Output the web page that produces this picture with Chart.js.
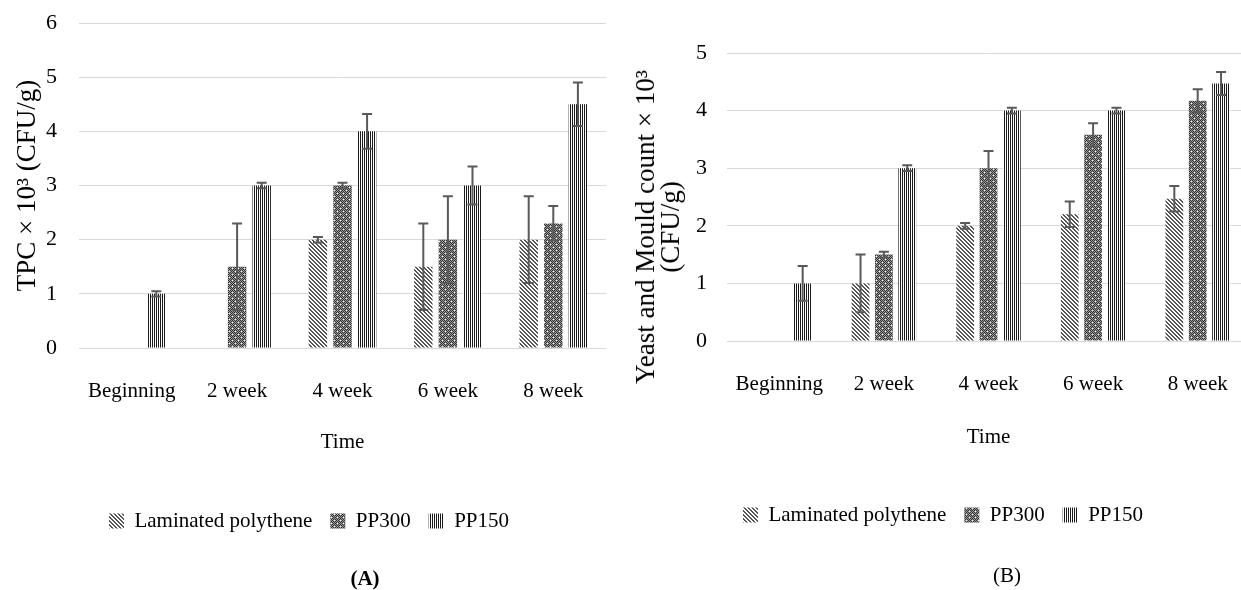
<!DOCTYPE html>
<html>
<head>
<meta charset="utf-8">
<script src="https://cdn.jsdelivr.net/npm/chart.js@4"></script>
<style>
  html, body { margin: 0; padding: 0; background: #fff; overflow: hidden; }
  body { width: 1241px; height: 590px; position: relative; font-family: 'Liberation Serif', 'Times New Roman', serif; }
  canvas { position: absolute; top: 0; }
  .cap { position: absolute; font-size: 21px; line-height: 1; transform: translate(-50%, -50%); white-space: nowrap; }
  #yTitleB { position: absolute; left: 658px; top: 227px; font-size: 27px; line-height: 25px; text-align: center;
             white-space: nowrap; transform: translate(-50%, -50%) rotate(-90deg); }
</style>
</head>
<body>
<canvas id="chartA" width="620" height="590" style="left:0"></canvas>
<canvas id="chartB" width="640" height="590" style="left:620px"></canvas>
<div id="yTitleB">Yeast and Mould count × 10³<br>(CFU/g)</div>
<div class="cap" style="left:365px; top:578px; font-weight:bold">(A)</div>
<div class="cap" style="left:1007px; top:575px">(B)</div>
<script>
// data
const categories = ['Beginning', '2 week', '4 week', '6 week', '8 week'];
const seriesNames = ['Laminated polythene', 'PP300', 'PP150'];

// (A) total plate count
const tpcTicks = [0, 1, 2, 3, 4, 5, 6];
const tpcLaminated = [null, null, 2.0, 1.5, 2.0];
const tpcPP300 = [null, 1.5, 3.0, 2.0, 2.3];
const tpcPP150 = [1.0, 3.0, 4.0, 3.0, 4.5];
const tpcLaminatedErr = [0, 0, 0.05, 0.8, 0.8];
const tpcPP300Err = [0, 0.8, 0.05, 0.8, 0.32];
const tpcPP150Err = [0.05, 0.05, 0.32, 0.35, 0.4];

// (B) yeast and mould
const ymTicks = [0, 1, 2, 3, 4, 5];
const ymLaminated = [null, 1.0, 2.0, 2.2, 2.47];
const ymPP300 = [null, 1.5, 3.0, 3.58, 4.17];
const ymPP150 = [1.0, 3.0, 4.0, 4.0, 4.47];
const ymLaminatedErr = [0, 0.5, 0.05, 0.22, 0.22];
const ymPP300Err = [0, 0.05, 0.3, 0.2, 0.2];
const ymPP150Err = [0.3, 0.05, 0.05, 0.05, 0.2];

Chart.defaults.font.family = "'Liberation Serif', 'Times New Roman', serif";
Chart.defaults.color = '#000';

// fill patterns
function makePattern(w, h, paint) {
  const c = document.createElement('canvas');
  c.width = w; c.height = h;
  const g = c.getContext('2d');
  g.fillStyle = '#fff';
  g.fillRect(0, 0, w, h);
  for (let y = 0; y < h; y++) {
    for (let x = 0; x < w; x++) {
      const col = paint(x, y);
      if (col) { g.fillStyle = col; g.fillRect(x, y, 1, 1); }
    }
  }
  return g.createPattern(c, 'repeat');
}
const diagonal = makePattern(4, 4, (x, y) => ((x - y + 8) % 4 < 2 ? '#555' : null));
const checker = makePattern(6, 6, (x, y) => {
  if ((x === 1 && y === 1) || (x === 4 && y === 4)) return '#fff';
  return (x + y) % 2 === 0 ? '#333' : '#999';
});
const vertical = makePattern(2, 1, (x) => (x === 0 ? '#1a1a1a' : null));
const fills = [diagonal, checker, vertical];

// error bars drawn from the y scale
const errorBars = {
  id: 'errorBars',
  afterDatasetsDraw(chart) {
    const { ctx } = chart;
    const y = chart.scales.y;
    ctx.save();
    ctx.strokeStyle = '#595959';
    ctx.lineWidth = 2;
    chart.data.datasets.forEach((ds, i) => {
      chart.getDatasetMeta(i).data.forEach((bar, j) => {
        const v = ds.data[j], e = ds.errors[j];
        if (v == null || !e) return;
        const top = y.getPixelForValue(v + e);
        const bot = y.getPixelForValue(v - e);
        ctx.beginPath();
        ctx.moveTo(bar.x, top); ctx.lineTo(bar.x, bot);
        ctx.moveTo(bar.x - 5, top); ctx.lineTo(bar.x + 5, top);
        ctx.moveTo(bar.x - 5, bot); ctx.lineTo(bar.x + 5, bot);
        ctx.stroke();
      });
    });
    ctx.restore();
  }
};

function datasets(values, errors, catPct, barPct) {
  return values.map((v, i) => ({
    label: seriesNames[i],
    data: v,
    errors: errors[i],
    backgroundColor: fills[i],
    borderColor: 'rgba(0,0,0,0)',
    borderWidth: 0,
    categoryPercentage: catPct,
    barPercentage: barPct
  }));
}

function options(cfg) {
  return {
    responsive: false,
    animation: false,
    devicePixelRatio: 1,
    layout: { padding: cfg.padding },
    plugins: {
      tooltip: { enabled: false },
      legend: {
        position: 'bottom',
        labels: { boxWidth: 15, boxHeight: 15, padding: 18, font: { size: 21 }, color: '#000' }
      }
    },
    scales: {
      x: {
        grid: { display: false, drawTicks: false },
        border: { display: false },
        ticks: { font: { size: 21 }, padding: 31, color: '#000' },
        title: { display: true, text: 'Time', font: { size: 21 }, color: '#000', padding: { top: 0, bottom: cfg.timePad } },
        afterFit: (s) => { s.height = cfg.xHeight; }
      },
      y: {
        min: cfg.ticks[0],
        max: cfg.ticks[cfg.ticks.length - 1],
        grid: { color: '#d9d9d9', lineWidth: 1, drawTicks: false },
        border: { display: false },
        ticks: { stepSize: 1, font: { size: 22 }, padding: cfg.tickPad, color: '#000' },
        title: cfg.yTitle,
        afterFit: (s) => {
          s.width = cfg.yWidth;
          // the top label only needs half its height above the plot
          s.paddingTop = 12;
          s.paddingBottom = 12;
        }
      }
    }
  };
}

new Chart(document.getElementById('chartA'), {
  type: 'bar',
  data: {
    labels: categories,
    datasets: datasets([tpcLaminated, tpcPP300, tpcPP150], [tpcLaminatedErr, tpcPP300Err, tpcPP150Err], 0.70, 0.75)
  },
  options: options({
    ticks: tpcTicks,
    padding: { top: 23, right: 14, left: 12, bottom: 48.5 },
    xHeight: 144.5,
    timePad: 37,
    yWidth: 67,
    tickPad: 22,
    yTitle: { display: true, text: 'TPC × 10³ (CFU/g)', font: { size: 27 }, color: '#000', padding: { top: 0, bottom: 0 } }
  }),
  plugins: [errorBars]
});

new Chart(document.getElementById('chartB'), {
  type: 'bar',
  data: {
    labels: categories,
    datasets: datasets([ymLaminated, ymPP300, ymPP150], [ymLaminatedErr, ymPP300Err, ymPP150Err], 0.67, 0.76)
  },
  options: options({
    ticks: ymTicks,
    padding: { top: 53, right: 10, left: 16, bottom: 54.5 },
    xHeight: 145.5,
    timePad: 36,
    yWidth: 91,
    tickPad: 20,
    yTitle: { display: false }
  }),
  plugins: [errorBars]
});
</script>
</body>
</html>
